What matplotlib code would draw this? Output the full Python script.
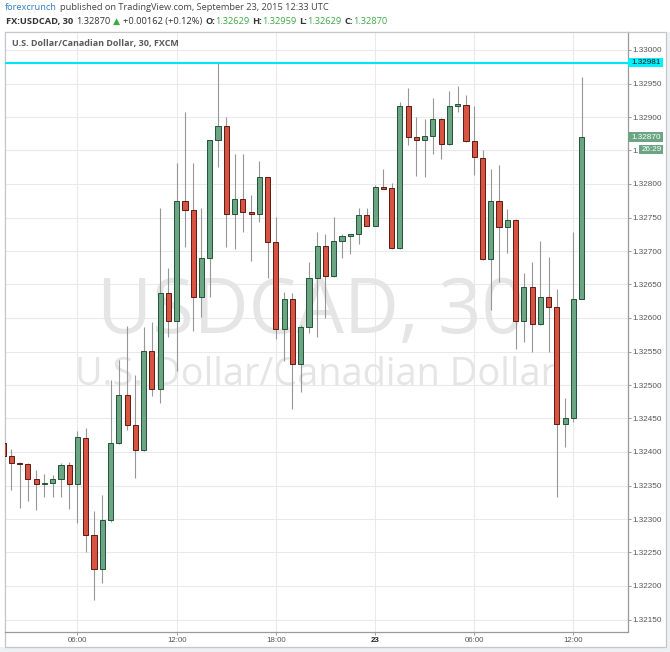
import matplotlib
matplotlib.use("Agg")
import matplotlib.pyplot as plt
from matplotlib.patches import Rectangle
import numpy as np

# ---------------- data (USDCAD, 30 min candles, 22-23 Sep 2015) ----------------
times = ["01:30", "02:00", "02:30", "03:00", "03:30", "04:00", "04:30", "05:00", "05:30",
         "06:00", "06:30", "07:00", "07:30", "08:00", "08:30", "09:00", "09:30", "10:00",
         "10:30", "11:00", "11:30", "12:00", "12:30", "13:00", "13:30", "14:00", "14:30",
         "15:00", "15:30", "16:00", "16:30", "17:00", "17:30", "18:00", "18:30", "19:00",
         "19:30", "20:00", "20:30", "21:00", "21:30", "22:00", "22:30", "23:00", "23:30",
         "00:00", "00:30", "01:00", "01:30", "02:00", "02:30", "03:00", "03:30", "04:00",
         "04:30", "05:00", "05:30", "06:00", "06:30", "07:00", "07:30", "08:00", "08:30",
         "09:00", "09:30", "10:00", "10:30", "11:00", "11:30", "12:00", "12:30"]

open_ = [1.32413, 1.32394, 1.32384, 1.32382, 1.32359, 1.32352, 1.32353, 1.32360, 1.32381,
         1.32352, 1.32421, 1.32276, 1.32225, 1.32299, 1.32413, 1.32485, 1.32441, 1.32403,
         1.32551, 1.32494, 1.32638, 1.32596, 1.32775, 1.32761, 1.32632, 1.32689, 1.32865,
         1.32886, 1.32755, 1.32778, 1.32758, 1.32755, 1.32810, 1.32714, 1.32583, 1.32628,
         1.32531, 1.32587, 1.32659, 1.32707, 1.32662, 1.32715, 1.32722, 1.32725, 1.32753,
         1.32738, 1.32796, 1.32794, 1.32704, 1.32917, 1.32870, 1.32866, 1.32871, 1.32897,
         1.32859, 1.32917, 1.32918, 1.32864, 1.32839, 1.32688, 1.32774, 1.32736, 1.32747,
         1.32596, 1.32646, 1.32591, 1.32632, 1.32617, 1.32442, 1.32451, 1.32629]
high = [1.32416, 1.32404, 1.32385, 1.32383, 1.32373, 1.32367, 1.32366, 1.32383, 1.32385,
        1.32431, 1.32436, 1.32312, 1.32336, 1.32507, 1.32538, 1.32588, 1.32515, 1.32586,
        1.32594, 1.32764, 1.32674, 1.32832, 1.32908, 1.32831, 1.32764, 1.32866, 1.32980,
        1.32900, 1.32845, 1.32845, 1.32784, 1.32834, 1.32811, 1.32751, 1.32639, 1.32637,
        1.32590, 1.32683, 1.32728, 1.32726, 1.32751, 1.32725, 1.32726, 1.32764, 1.32764,
        1.32798, 1.32822, 1.32801, 1.32922, 1.32944, 1.32900, 1.32897, 1.32929, 1.32898,
        1.32939, 1.32946, 1.32933, 1.32916, 1.32851, 1.32822, 1.32829, 1.32763, 1.32748,
        1.32667, 1.32683, 1.32715, 1.32691, 1.32644, 1.32480, 1.32728, 1.32959]
low = [1.32392, 1.32343, 1.32316, 1.32327, 1.32314, 1.32333, 1.32333, 1.32333, 1.32315,
       1.32294, 1.32251, 1.32179, 1.32204, 1.32295, 1.32412, 1.32433, 1.32361, 1.32402,
       1.32483, 1.32473, 1.32572, 1.32521, 1.32706, 1.32581, 1.32602, 1.32632, 1.32826,
       1.32706, 1.32703, 1.32728, 1.32685, 1.32744, 1.32660, 1.32568, 1.32536, 1.32464,
       1.32489, 1.32577, 1.32571, 1.32600, 1.32661, 1.32689, 1.32695, 1.32710, 1.32737,
       1.32737, 1.32792, 1.32703, 1.32703, 1.32858, 1.32812, 1.32810, 1.32845, 1.32838,
       1.32858, 1.32908, 1.32863, 1.32814, 1.32687, 1.32612, 1.32654, 1.32697, 1.32553,
       1.32564, 1.32549, 1.32590, 1.32550, 1.32333, 1.32407, 1.32445, 1.32629]
close = [1.32394, 1.32384, 1.32382, 1.32359, 1.32352, 1.32354, 1.32360, 1.32381, 1.32352,
         1.32422, 1.32276, 1.32225, 1.32299, 1.32413, 1.32485, 1.32441, 1.32403, 1.32551,
         1.32494, 1.32638, 1.32596, 1.32775, 1.32761, 1.32632, 1.32689, 1.32865, 1.32886,
         1.32755, 1.32778, 1.32758, 1.32755, 1.32810, 1.32714, 1.32583, 1.32628, 1.32531,
         1.32587, 1.32659, 1.32707, 1.32662, 1.32715, 1.32722, 1.32725, 1.32753, 1.32738,
         1.32796, 1.32793, 1.32704, 1.32917, 1.32870, 1.32866, 1.32871, 1.32897, 1.32859,
         1.32917, 1.32919, 1.32864, 1.32840, 1.32688, 1.32774, 1.32736, 1.32747, 1.32596,
         1.32646, 1.32591, 1.32632, 1.32617, 1.32442, 1.32451, 1.32629, 1.32870]

xtick_labels = ["06:00", "12:00", "18:00", "23", "06:00", "12:00"]
xtick_times = ["06:00", "12:00", "18:00", "00:00", "06:00", "12:00"]
price_ticks = [1.32150, 1.32200, 1.32250, 1.32300, 1.32350, 1.32400, 1.32450, 1.32500,
               1.32550, 1.32600, 1.32650, 1.32700, 1.32750, 1.32800, 1.32850, 1.32900,
               1.32950, 1.33000]
alert_level = 1.32981
last_price = 1.32870
countdown = "26:29"

# ---------------- figure ----------------
W, H = 670, 652
fig = plt.figure(figsize=(W / 100, H / 100), dpi=100)
fig.patch.set_facecolor("white")


def fx(x):
    return x / W


def fy(y):
    return 1 - y / H


# light page background below / right of the chart frame
fig.patches.append(Rectangle((0, 0), 1, fy(647), transform=fig.transFigure,
                             facecolor="#eef1f4", edgecolor="none", zorder=-10))
fig.patches.append(Rectangle((fx(666), 0), 1 - fx(666), fy(32), transform=fig.transFigure,
                             facecolor="#eef1f4", edgecolor="none", zorder=-10))
# outer chart frame
fig.patches.append(Rectangle((fx(4.5), fy(647)), fx(666) - fx(4.5), fy(32) - fy(647),
                             transform=fig.transFigure, fill=False,
                             edgecolor="#c3c7cb", linewidth=0.9, zorder=-5))

ax = fig.add_axes([fx(4.7), fy(631.5), fx(627.5) - fx(4.7), fy(32) - fy(631.5)])
ax.set_facecolor("white")

n = len(open_)
xs = np.arange(n)
o = np.array(open_)
c = np.array(close)
hi = np.array(high)
lo = np.array(low)
up = c >= o

UP_FACE, UP_EDGE = "#6ba583", "#225437"
DN_FACE, DN_EDGE = "#d75442", "#5b1a13"

ax.vlines(xs, lo, hi, color="#969696", linewidth=0.8, zorder=2)
body_h = np.where(np.abs(c - o) < 1e-6, 0.0, c - o)
ax.bar(xs[up], body_h[up], bottom=o[up], width=0.62, color=UP_FACE, edgecolor=UP_EDGE,
       linewidth=0.7, zorder=3)
ax.bar(xs[~up], body_h[~up], bottom=o[~up], width=0.62, color=DN_FACE, edgecolor=DN_EDGE,
       linewidth=0.7, zorder=3)

# horizontal alert line
ax.axhline(alert_level, color="#00e5f5", linewidth=1.5, zorder=4)

# axes limits: pixel mapping x = 3.1 + 8.266*i
ax.set_xlim((4.7 - 3.1) / 8.266, (627.5 - 3.1) / 8.266)
ax.set_ylim(1.33 - (631.5 - 50) / 67 * 0.001, 1.33 + 18 / 67 * 0.001)

tick_idx = [i for i, t in enumerate(times) if t in xtick_times and i >= 9]
tick_idx = tick_idx[:len(xtick_labels)]
ax.set_xticks(tick_idx)
ax.set_xticklabels(xtick_labels, family="Liberation Sans")
ax.yaxis.tick_right()
ax.set_yticks(price_ticks)
ax.set_yticklabels([f"{p:.5f}" for p in price_ticks], family="Liberation Sans")
ax.tick_params(axis="y", length=2.3, width=0.6, color="#8a8a8a", labelsize=5.9,
               labelcolor="#555555", pad=1.2)
ax.tick_params(axis="x", length=2.0, width=0.6, color="#8a8a8a", labelsize=5.7,
               labelcolor="#555555", pad=2.2)
for lbl in ax.get_xticklabels():
    if lbl.get_text() == "23":
        lbl.set_color("#222222")
        lbl.set_fontweight("bold")

ax.grid(True, color="#e9e9e9", linewidth=0.75)
ax.set_axisbelow(True)
for side in ["left", "top"]:
    ax.spines[side].set_color("#c3c7cb")
    ax.spines[side].set_linewidth(0.8)
for side in ["right", "bottom"]:
    ax.spines[side].set_color("#9a9a9a")
    ax.spines[side].set_linewidth(0.9)

renderer = fig.canvas.get_renderer()
FAM = ["Open Sans", "DejaVu Sans"]


def text_width(s, size, weight="normal"):
    t = fig.text(0, 0, s, fontsize=size, fontweight=weight, family=FAM)
    w = t.get_window_extent(renderer).width
    t.remove()
    return w


def fit_size(s, target_w, weight="normal", trial=10.0):
    return trial * target_w / text_width(s, trial, weight)


# watermark (sized to span the same width as in the reference)
wm1 = fit_size("USDCAD, 30", 428)
wm2 = fit_size("U.S. Dollar/Canadian Dollar", 480)
ax.text(fx(97), fy(333), "USDCAD, 30", transform=fig.transFigure, family="Open Sans",
        fontsize=wm1, color="#e5e5e5", ha="left", va="baseline", zorder=1)
ax.text(fx(75), fy(385), "U.S. Dollar/Canadian Dollar", transform=fig.transFigure,
        family="Open Sans", fontsize=wm2, color="#e5e5e5", ha="left", va="baseline", zorder=1)

# ---------------- header texts ----------------
def seq_width(pieces, size):
    total = 0.0
    for s, color, weight, gap in pieces:
        total += text_width(s, size, weight) + gap * size / 7.0
    return total


def seq_text(x_px, y_px, pieces, target_end):
    size = 7.0 * (target_end - x_px) / seq_width(pieces, 7.0)
    x = x_px
    for s, color, weight, gap in pieces:
        t = fig.text(fx(x), fy(y_px), s, color=color, fontsize=size, fontweight=weight,
                     family=FAM, va="center", ha="left")
        x += t.get_window_extent(renderer).width + gap * size / 7.0


DARK = "#333333"
GRN = "#3eaa46"
sp = 3.0
line1 = [("forexcrunch", "#2f7fc9", "normal", sp),
         ("published on TradingView.com, September 23, 2015 12:33 UTC", "#444444", "normal", 0)]
line2 = [("FX:USDCAD, 30", DARK, "bold", sp),
         ("1.32870", DARK, "normal", sp),
         ("\u25B2", GRN, "normal", sp),
         ("+0.00162 (+0.12%)", DARK, "normal", sp),
         ("O:", DARK, "bold", 0), ("1.32629", GRN, "normal", sp),
         ("H:", DARK, "bold", 0), ("1.32959", GRN, "normal", sp),
         ("L:", DARK, "bold", 0), ("1.32629", GRN, "normal", sp),
         ("C:", DARK, "bold", 0), ("1.32870", GRN, "normal", 0)]
seq_text(5, 7.5, line1, 333)
seq_text(6, 21.7, line2, 389)

title = "U.S. Dollar/Canadian Dollar, 30, FXCM"
fig.text(fx(12), fy(43.5), title, color="#5a5a5a",
         fontsize=fit_size(title, 167, "bold"), fontweight="bold", family="Open Sans",
         va="center", ha="left")

# ---------------- price axis labels (alert, last price, countdown) ----------------
def ypix(p):
    return 50 + (1.33 - p) / 0.001 * 67


def axis_box(x0, x1, yc, hgt, text, face, tcolor, tx):
    fig.patches.append(Rectangle((fx(x0), fy(yc + hgt / 2)), fx(x1) - fx(x0), hgt / H,
                                 transform=fig.transFigure, facecolor=face,
                                 edgecolor="none", zorder=5))
    fig.text(fx(tx), fy(yc), text, color=tcolor, fontsize=5.9, family="Liberation Sans",
             va="center", ha="left", zorder=6)


axis_box(627.8, 663, ypix(alert_level), 9.5, f"{alert_level:.5f}", "#00f0ff", "#111111", 631)
axis_box(627.8, 663, ypix(last_price), 9.5, f"{last_price:.5f}", UP_FACE, "white", 631)
axis_box(639, 663, ypix(last_price) + 12.3, 9.5, countdown, UP_FACE, "white", 641.5)

fig.savefig("out.png", dpi=100, facecolor=fig.get_facecolor())
